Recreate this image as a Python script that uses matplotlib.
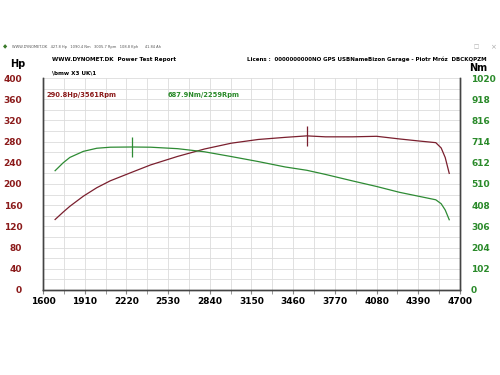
import matplotlib.pyplot as plt
import numpy as np

# readings
rpm = [1690, 1750, 1800, 1900, 2000, 2100, 2259, 2400, 2600, 2800, 3000, 3200,
       3400, 3561, 3700, 3900, 4080, 4250, 4400, 4520, 4560, 4590, 4620]
power_hp = [133, 147, 158, 177, 193, 206, 222, 236, 252, 266, 277, 284,
            288, 290.8, 289, 289, 290, 285, 281, 278, 268, 250, 220]
torque_nm = [574, 612, 638, 667, 682, 687, 688, 687, 680, 665, 642, 618,
             592, 576, 556, 525, 498, 470, 450, 434, 415, 385, 338]

hp_ticks = list(range(0, 401, 40))
nm_ticks = list(range(0, 1021, 102))
rpm_ticks = list(range(1600, 4701, 310))

red = '#8b1a1a'
green = '#2a8a2a'
pcol = '#7a1f2e'
tcol = '#2e8b34'

plt.rcParams['font.family'] = 'DejaVu Sans'

fig = plt.figure(figsize=(5, 3.75), dpi=100)
ax = fig.add_axes([0.086, 0.2267, 0.834, 0.5653])
ax2 = ax.twinx()

ax.set_xlim(1600, 4700)
ax.set_ylim(0, 400)
ax2.set_ylim(0, 1020)

# grid every half step
for x in np.arange(1600, 4701, 155):
    ax.axvline(x, color='#dcdcdc', lw=0.6, zorder=0)
for y in np.arange(0, 401, 20):
    ax.axhline(y, color='#dcdcdc', lw=0.6, zorder=0)

ax.plot(rpm, power_hp, color=pcol, lw=0.9, zorder=3)
ax2.plot(rpm, torque_nm, color=tcol, lw=0.9, zorder=3)
ax.plot([3561], [290.8], marker='|', ms=14, mew=0.9, color=pcol)
ax2.plot([2259], [688], marker='|', ms=14, mew=0.9, color=tcol)

ax.set_yticks(hp_ticks)
ax2.set_yticks(nm_ticks)
ax.set_xticks(rpm_ticks)
ax.set_xticks(np.arange(1600, 4701, 155), minor=True)

ax.tick_params(axis='y', length=0, pad=15, labelsize=6.5, labelcolor=red)
ax2.tick_params(axis='y', length=0, pad=8, labelsize=6.5, labelcolor=green)
ax.tick_params(axis='x', which='both', length=3, color='#888888', pad=2,
               labelsize=6.5, labelcolor='black')
for lab in ax.get_yticklabels() + ax2.get_yticklabels() + ax.get_xticklabels():
    lab.set_fontweight('bold')

for a in (ax, ax2):
    a.spines['top'].set_visible(False)
    for s in ('left', 'right', 'bottom'):
        a.spines[s].set_color('#444444')
        a.spines[s].set_linewidth(1.0)

ax.text(1625, 368, '290.8Hp/3561Rpm', color=red, fontsize=4.9, fontweight='bold', va='center')
ax.text(2530, 368, '687.9Nm/2259Rpm', color=green, fontsize=4.9, fontweight='bold', va='center')

fig.text(18 / 500, 1 - 64 / 375, 'Hp', fontsize=7, fontweight='bold', ha='center', va='center')
fig.text(478 / 500, 1 - 68 / 375, 'Nm', fontsize=7, fontweight='bold', ha='center', va='center')
fig.text(52 / 500, 1 - 60 / 375, 'WWW.DYNOMET.DK  Power Test Report', fontsize=4.1,
         fontweight='bold', va='center')
fig.text(52 / 500, 1 - 73 / 375, '\\bmw X3 UK\\1', fontsize=4.1, fontweight='bold', va='center')
fig.text(487 / 500, 1 - 59 / 375,
         'Licens :  0000000000NO GPS USBNameBizon Garage - Piotr Mróz  DBCKQPZM',
         fontsize=4.0, fontweight='bold', va='center', ha='right')
fig.text(12 / 500, 1 - 47 / 375,
         'WWW.DYNOMET.DK   427.8 Hp   1090.4 Nm   3005.7 Rpm   108.8 Kph      41.84 Ah',
         fontsize=2.65, color='#555555', va='center')
fig.text(5 / 500, 1 - 47 / 375, '\u25c6', fontsize=4, color='#3a7a2a', va='center', ha='center')
fig.text(476 / 500, 1 - 47 / 375, '\u25a1', fontsize=4, color='#aaaaaa', va='center', ha='center')
fig.text(493 / 500, 1 - 47 / 375, '\u00d7', fontsize=5, color='#aaaaaa', va='center', ha='center')

fig.savefig('out.png', dpi=100)
